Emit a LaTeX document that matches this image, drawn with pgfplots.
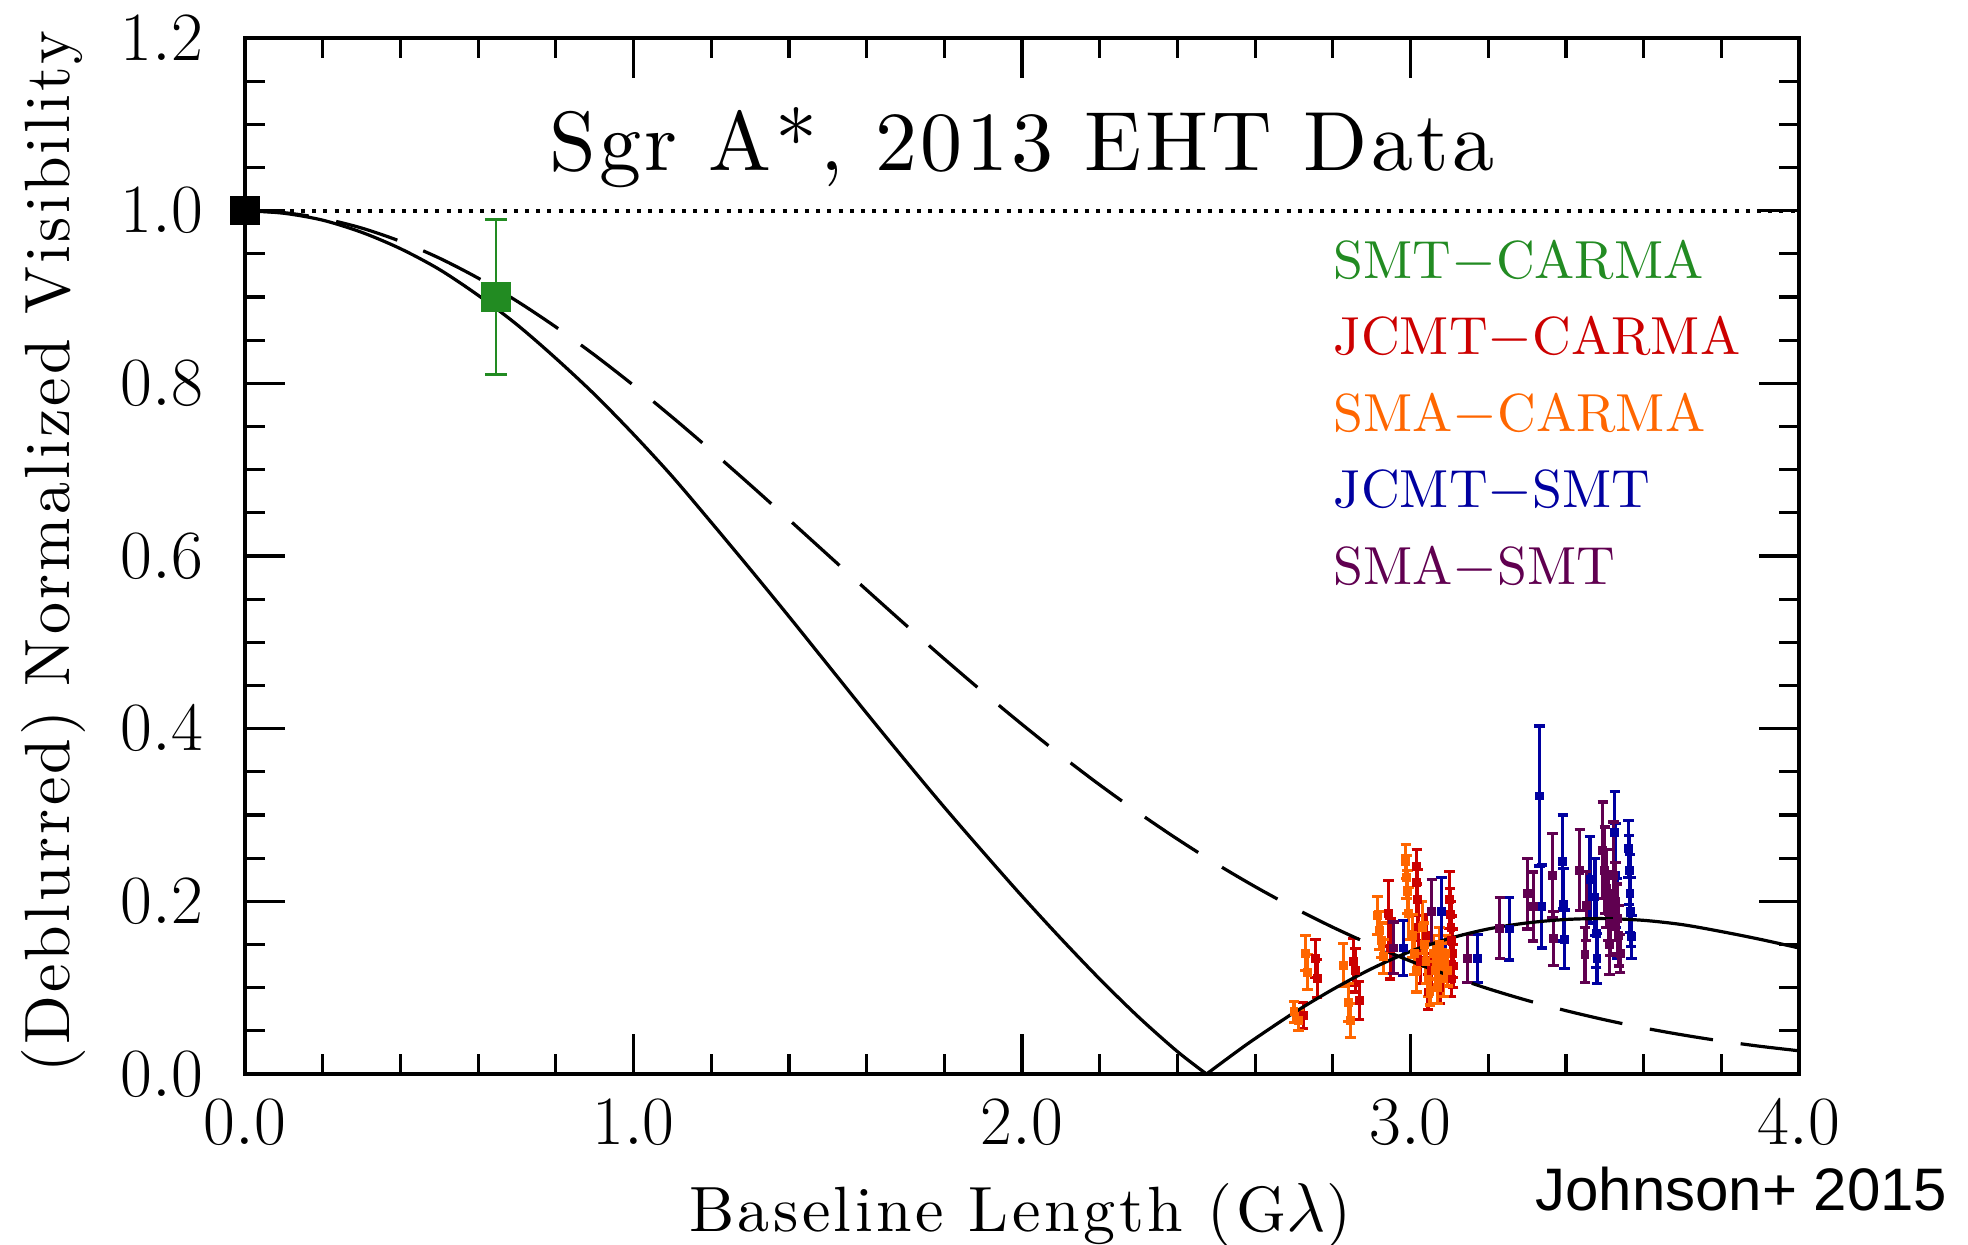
\documentclass[border=0pt]{standalone}
\usepackage{fontspec}
\usepackage{pgfplots}
\usepackage{pgfplotstable}
\pgfplotsset{compat=1.18}
\newfontfamily\helv{Liberation Sans}
\newfontfamily\lmten[Extension=.otf]{lmroman10-regular}
\definecolor{cgreen}{RGB}{34,139,34}
\definecolor{cred}{RGB}{204,0,0}
\definecolor{corange}{RGB}{255,102,0}
\definecolor{cblue}{RGB}{0,0,160}
\definecolor{cpurple}{RGB}{96,0,80}

\pgfplotstableread{
x y e
2.724 0.068 0.015
2.755 0.134 0.022
2.760 0.111 0.022
2.853 0.130 0.027
2.858 0.120 0.025
2.868 0.085 0.022
2.943 0.186 0.038
2.948 0.145 0.035
3.016 0.240 0.020
3.016 0.222 0.038
3.018 0.202 0.035
3.020 0.170 0.030
3.025 0.130 0.025
3.040 0.160 0.025
3.045 0.095 0.020
3.055 0.120 0.020
3.076 0.100 0.018
3.100 0.202 0.033
3.102 0.185 0.030
3.104 0.170 0.030
3.106 0.155 0.028
3.108 0.140 0.028
3.110 0.125 0.025
3.105 0.110 0.020
}\jcmtcarma

\pgfplotstableread{
x y e
2.700 0.072 0.012
2.712 0.062 0.012
2.730 0.140 0.020
2.735 0.118 0.020
2.827 0.126 0.025
2.840 0.083 0.022
2.846 0.062 0.020
2.915 0.184 0.022
2.920 0.166 0.022
2.925 0.155 0.020
2.930 0.136 0.020
2.988 0.246 0.020
2.990 0.228 0.025
2.992 0.211 0.025
2.995 0.186 0.030
3.005 0.160 0.025
3.010 0.140 0.025
3.015 0.120 0.025
3.030 0.170 0.030
3.035 0.150 0.025
3.040 0.130 0.025
3.045 0.110 0.020
3.050 0.095 0.015
3.060 0.140 0.020
3.065 0.120 0.020
3.070 0.100 0.018
3.075 0.150 0.020
3.080 0.130 0.020
3.085 0.110 0.020
3.090 0.140 0.020
3.095 0.120 0.018
}\smacarma

\pgfplotstableread{
x y e
2.981 0.146 0.032
3.080 0.188 0.040
3.172 0.134 0.028
3.254 0.168 0.036
3.332 0.322 0.081
3.338 0.194 0.048
3.392 0.246 0.054
3.394 0.196 0.042
3.396 0.156 0.034
3.462 0.225 0.050
3.475 0.205 0.045
3.478 0.163 0.040
3.480 0.134 0.029
3.526 0.280 0.047
3.528 0.230 0.060
3.532 0.180 0.046
3.561 0.261 0.033
3.563 0.236 0.040
3.565 0.209 0.045
3.567 0.188 0.040
3.569 0.159 0.025
}\jcmtsmt

\pgfplotstableread{
x y e
2.956 0.146 0.030
3.055 0.188 0.037
3.147 0.134 0.028
3.230 0.169 0.035
3.301 0.209 0.041
3.316 0.194 0.040
3.366 0.230 0.049
3.368 0.157 0.031
3.436 0.236 0.047
3.449 0.138 0.032
3.452 0.195 0.040
3.495 0.259 0.056
3.500 0.236 0.050
3.505 0.215 0.045
3.510 0.195 0.040
3.515 0.175 0.038
3.512 0.150 0.035
3.522 0.230 0.062
3.528 0.200 0.045
3.532 0.180 0.040
3.536 0.160 0.035
3.540 0.140 0.022
}\smasmt

\pgfplotsset{databar/.style={only marks, mark=square*, mark size=0.9pt, color=#1,
  mark options={fill=#1, draw=#1},
  error bars/.cd, y dir=both, y explicit,
  error bar style={line width=0.8pt, #1},
  error mark options={rotate=90, mark size=1.3pt, line width=0.8pt, #1}}}

\begin{document}
\begin{tikzpicture}
\path[use as bounding box] (-61.25pt,-42.5pt) rectangle (430.75pt,268.5pt);
\begin{axis}[at={(0,0)}, anchor=south west, scale only axis,
  width=388.5pt, height=259pt,
  xmin=0, xmax=4, ymin=0, ymax=1.2,
  xtick={0,1,2,3,4}, ytick={0,0.2,0.4,0.6,0.8,1.0,1.2},
  minor x tick num=4, minor y tick num=3,
  tick align=inside, tick pos=both,
  major tick length=10pt, minor tick length=5pt,
  axis line style={line width=1pt},
  every tick/.style={black, line width=0.8pt},
  tick label style={font=\fontsize{16}{16}\selectfont},
  xticklabel style={/pgf/number format/.cd, fixed, fixed zerofill, precision=1},
  yticklabel style={/pgf/number format/.cd, fixed, fixed zerofill, precision=1},
  xticklabel shift=3pt, yticklabel shift=7pt,
  clip=false]

\addplot[databar=cred] table[x=x, y=y, y error=e] {\jcmtcarma};
\addplot[databar=corange] table[x=x, y=y, y error=e] {\smacarma};
\addplot[databar=cblue] table[x=x, y=y, y error=e] {\jcmtsmt};
\addplot[databar=cpurple] table[x=x, y=y, y error=e] {\smasmt};

\addplot[only marks, mark=square*, mark size=3.6pt, color=cgreen, mark options={fill=cgreen, draw=cgreen},
  error bars/.cd, y dir=both, y explicit,
  error bar style={line width=0.7pt, cgreen},
  error mark options={rotate=90, mark size=2.8pt, line width=0.7pt, cgreen}]
  coordinates {(0.646,0.900) +- (0,0.090)};

% dotted unit line
\addplot[black, line width=1pt, dash pattern=on 1pt off 1.8pt] coordinates {(0,1) (4,1)};

% solid model
\addplot[black, line width=0.8pt, smooth] coordinates {
(0,1.000) (0.1,0.997) (0.2,0.989) (0.3,0.975) (0.4,0.956) (0.5,0.932)
(0.6,0.902) (0.7,0.868) (0.8,0.829) (0.9,0.787) (1.0,0.741) (1.1,0.692)
(1.2,0.639) (1.3,0.585) (1.4,0.530) (1.5,0.474) (1.6,0.418) (1.7,0.363)
(1.8,0.309) (1.9,0.257) (2.0,0.206) (2.1,0.157) (2.2,0.110) (2.3,0.066)
(2.4,0.026) (2.475,0.0)};
\addplot[black, line width=0.8pt, smooth] coordinates {
(2.475,0.0) (2.55,0.025) (2.6,0.041) (2.7,0.071) (2.8,0.098) (2.9,0.122)
(3.0,0.142) (3.1,0.157) (3.2,0.168) (3.3,0.175) (3.4,0.179) (3.5,0.180)
(3.6,0.178) (3.7,0.173) (3.8,0.165) (3.9,0.156) (4.0,0.146)};

% dashed model
\addplot[black, line width=0.8pt, smooth, dash pattern=on 16pt off 7pt] coordinates {
(0,1.000) (0.1,0.9977) (0.2,0.9910) (0.3,0.9799) (0.4,0.9645) (0.5,0.9451)
(0.6,0.9219) (0.7,0.8952) (0.8,0.8653) (0.9,0.8327) (1.0,0.7977) (1.1,0.7607)
(1.2,0.7222) (1.3,0.6826) (1.4,0.6422) (1.5,0.6014) (1.6,0.5607) (1.7,0.5204)
(1.8,0.4808) (1.9,0.4423) (2.0,0.4050) (2.1,0.3691) (2.2,0.3349) (2.3,0.3026)
(2.4,0.2721) (2.5,0.2435) (2.6,0.2170) (2.7,0.1925) (2.8,0.1700) (2.9,0.1495)
(3.0,0.1308) (3.1,0.1140) (3.2,0.0988) (3.3,0.0853) (3.4,0.0734) (3.5,0.0628)
(3.6,0.0534) (3.7,0.0453) (3.8,0.0382) (3.9,0.0321) (4.0,0.0269)};

\addplot[only marks, mark=square*, mark size=3.5pt, black] coordinates {(0,1)};

% title and labels
\node[anchor=base, inner sep=0pt, font=\lmten\fontsize{21}{21}\selectfont\addfontfeatures{LetterSpace=4}] at (axis cs:2.0,1.047) {Sgr A*, 2013 EHT Data};
\node[anchor=base west, inner sep=0pt, text=cgreen, font=\lmten\fontsize{13.4}{13.4}\selectfont] at (axis cs:2.80,0.922) {SMT$-$CARMA};
\node[anchor=base west, inner sep=0pt, text=cred, font=\lmten\fontsize{13.4}{13.4}\selectfont] at (axis cs:2.80,0.833) {JCMT$-$CARMA};
\node[anchor=base west, inner sep=0pt, text=corange, font=\lmten\fontsize{13.4}{13.4}\selectfont] at (axis cs:2.80,0.744) {SMA$-$CARMA};
\node[anchor=base west, inner sep=0pt, text=cblue, font=\lmten\fontsize{13.4}{13.4}\selectfont] at (axis cs:2.80,0.656) {JCMT$-$SMT};
\node[anchor=base west, inner sep=0pt, text=cpurple, font=\lmten\fontsize{13.4}{13.4}\selectfont] at (axis cs:2.80,0.567) {SMA$-$SMT};

\node[anchor=base, inner sep=0pt, font=\lmten\fontsize{16}{16}\selectfont\addfontfeatures{LetterSpace=5.5}] at (axis description cs:0.4987,-0.1525) {Baseline Length (G$\lambda$)};
\node[anchor=base, inner sep=0pt, rotate=90, font=\lmten\fontsize{16}{16}\selectfont\addfontfeatures{LetterSpace=5}] at (axis description cs:-0.113,0.504) {(Deblurred) Normalized Visibility};
\node[anchor=base east, inner sep=0pt, font=\helv\fontsize{15}{15}\selectfont] at (axis description cs:1.096,-0.132) {Johnson+ 2015};
\end{axis}
\end{tikzpicture}
\end{document}
